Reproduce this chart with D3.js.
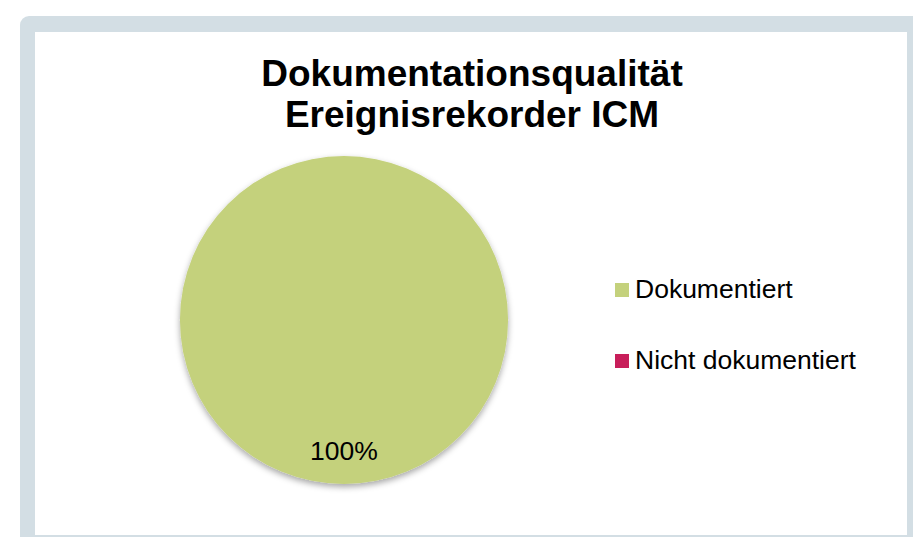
<!DOCTYPE html>
<html><head><meta charset="utf-8">
<script src="https://cdn.jsdelivr.net/npm/d3@7"></script>
<style>html,body{margin:0;padding:0;background:#fff;}svg{display:block;}</style>
</head><body>
<script>
const categories = ["Dokumentiert", "Nicht dokumentiert"];
const values = [100, 0];
const colors = ["#C4D17C", "#C81E5A"];
const titleLines = ["Dokumentationsqualität", "Ereignisrekorder ICM"];

const W = 913, H = 537;
const svg = d3.select("body").append("svg").attr("width", W).attr("height", H);
const defs = svg.append("defs");
const f = defs.append("filter").attr("id", "sh").attr("x", "-20%").attr("y", "-20%").attr("width", "140%").attr("height", "140%");
f.append("feDropShadow").attr("dx", 0).attr("dy", 3).attr("stdDeviation", 3).attr("flood-color", "#000").attr("flood-opacity", 0.35);

// frame
svg.append("rect").attr("x", 20).attr("y", 16).attr("width", W).attr("height", H).attr("rx", 9).attr("fill", "#D3DEE4");
svg.append("rect").attr("x", 35).attr("y", 32).attr("width", 872).attr("height", 503).attr("fill", "#fff");

// title
const title = svg.append("text").attr("text-anchor", "middle")
  .attr("font-family", "Liberation Sans, Arial, sans-serif").attr("font-weight", "bold").attr("font-size", 37).attr("fill", "#000");
titleLines.forEach((t, i) => title.append("tspan").attr("x", 472).attr("y", 86 + i * 41).text(t));

// pie
const cx = 344, cy = 320, r = 164;
const total = d3.sum(values);
const pie = d3.pie().sort(null).value(d => d.v);
const data = pie(categories.map((c, i) => ({c, v: values[i], col: colors[i]})));
const arc = d3.arc().innerRadius(0).outerRadius(r);
const g = svg.append("g").attr("transform", `translate(${cx},${cy})`);
g.append("g").attr("filter", "url(#sh)").selectAll("path").data(data.filter(d => d.data.v > 0)).join("path")
  .attr("d", arc).attr("fill", d => d.data.col);
const labelArc = d3.arc().innerRadius(r * 0.8).outerRadius(r * 0.8);
g.selectAll("text.lbl").data(data.filter(d => d.data.v > 0)).join("text").attr("class", "lbl")
  .attr("transform", d => `translate(${labelArc.centroid(d)})`)
  .attr("text-anchor", "middle").attr("dy", "0.35em")
  .attr("font-family", "Liberation Sans, Arial, sans-serif").attr("font-size", 26.5).attr("fill", "#000")
  .text(d => d3.format(".0%")(d.data.v / total));

// legend
const lg = svg.append("g").selectAll("g").data(categories).join("g")
  .attr("transform", (d, i) => `translate(615,${283 + i * 71})`);
lg.append("rect").attr("width", 14).attr("height", 14).attr("fill", (d, i) => colors[i]);
lg.append("text").attr("x", 20).attr("y", 15).attr("font-family", "Liberation Sans, Arial, sans-serif")
  .attr("font-size", 26.5).attr("fill", "#000").text(d => d);
</script>
</body></html>
